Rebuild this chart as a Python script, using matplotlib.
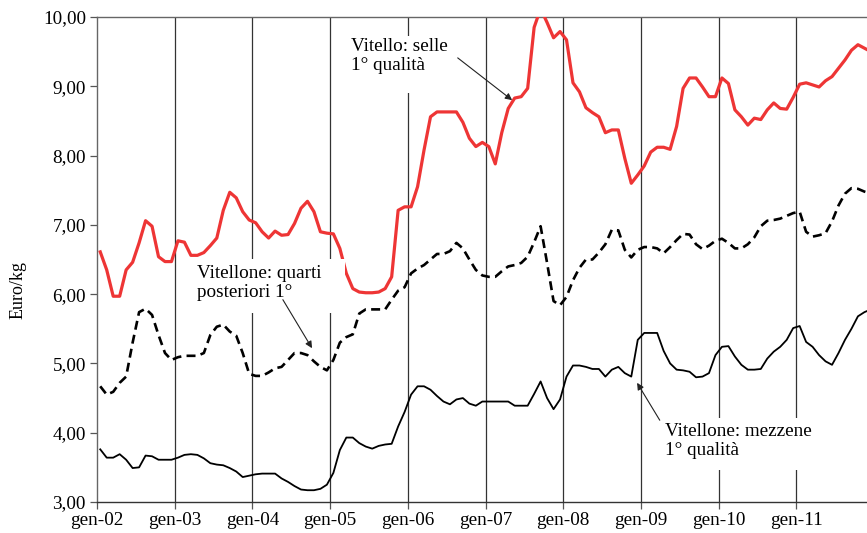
import numpy as np
import matplotlib
matplotlib.use('Agg')
import matplotlib.pyplot as plt
from matplotlib.patches import Rectangle
from matplotlib.ticker import FuncFormatter

plt.rcParams['font.family'] = ['Liberation Serif', 'DejaVu Serif']

# prezzi mensili gen-02 .. dic-11 (euro/kg)
selle = [6.61, 6.35, 5.97, 5.97, 6.35, 6.46, 6.74, 7.06, 6.98, 6.54, 6.47, 6.47,
         6.77, 6.75, 6.56, 6.56, 6.60, 6.70, 6.81, 7.21, 7.47, 7.39, 7.19, 7.07,
         7.03, 6.90, 6.81, 6.91, 6.85, 6.86, 7.02, 7.24, 7.34, 7.19, 6.90, 6.88,
         6.87, 6.66, 6.30, 6.08, 6.03, 6.02, 6.02, 6.03, 6.08, 6.25, 7.21, 7.26,
         7.26, 7.55, 8.08, 8.56, 8.63, 8.63, 8.63, 8.63, 8.48, 8.25, 8.13, 8.19,
         8.13, 7.88, 8.33, 8.68, 8.83, 8.85, 8.97, 9.85, 10.12, 9.92, 9.70, 9.79,
         9.67, 9.05, 8.92, 8.69, 8.62, 8.56, 8.33, 8.37, 8.37, 7.96, 7.60, 7.72,
         7.85, 8.05, 8.12, 8.12, 8.09, 8.42, 8.97, 9.12, 9.12, 8.99, 8.85, 8.85,
         9.12, 9.04, 8.66, 8.56, 8.44, 8.54, 8.52, 8.66, 8.76, 8.68, 8.67, 8.84,
         9.03, 9.05, 9.02, 8.99, 9.08, 9.14, 9.26, 9.38, 9.52, 9.60, 9.55, 9.50]

quarti = [4.67, 4.55, 4.59, 4.72, 4.81, 5.30, 5.74, 5.79, 5.70, 5.41, 5.15, 5.05,
          5.09, 5.11, 5.11, 5.11, 5.15, 5.41, 5.53, 5.56, 5.46, 5.40, 5.15, 4.85,
          4.82, 4.82, 4.87, 4.93, 4.95, 5.05, 5.15, 5.15, 5.12, 5.03, 4.95, 4.90,
          5.05, 5.30, 5.38, 5.42, 5.72, 5.78, 5.78, 5.78, 5.78, 5.92, 6.05, 6.10,
          6.30, 6.37, 6.42, 6.50, 6.58, 6.58, 6.62, 6.74, 6.66, 6.50, 6.35, 6.27,
          6.25, 6.25, 6.33, 6.40, 6.42, 6.45, 6.54, 6.75, 6.98, 6.45, 5.90, 5.84,
          5.96, 6.20, 6.38, 6.50, 6.50, 6.60, 6.72, 6.93, 6.92, 6.64, 6.53, 6.64,
          6.68, 6.68, 6.66, 6.59, 6.68, 6.78, 6.87, 6.86, 6.72, 6.65, 6.70, 6.77,
          6.80, 6.74, 6.66, 6.66, 6.72, 6.82, 6.98, 7.06, 7.07, 7.09, 7.13, 7.17,
          7.19, 6.90, 6.83, 6.85, 6.88, 7.05, 7.28, 7.45, 7.53, 7.52, 7.48, 7.45]

mezzene = [3.76, 3.64, 3.64, 3.69, 3.61, 3.49, 3.50, 3.67, 3.66, 3.61, 3.61, 3.61,
           3.64, 3.68, 3.69, 3.68, 3.63, 3.56, 3.54, 3.53, 3.49, 3.44, 3.36, 3.38,
           3.40, 3.41, 3.41, 3.41, 3.34, 3.29, 3.23, 3.18, 3.17, 3.17, 3.19, 3.25,
           3.42, 3.75, 3.93, 3.93, 3.85, 3.80, 3.77, 3.81, 3.83, 3.84, 4.09, 4.30,
           4.55, 4.67, 4.67, 4.62, 4.53, 4.45, 4.41, 4.48, 4.50, 4.42, 4.39, 4.45,
           4.45, 4.45, 4.45, 4.45, 4.39, 4.39, 4.39, 4.56, 4.74, 4.50, 4.34, 4.48,
           4.81, 4.97, 4.97, 4.95, 4.92, 4.92, 4.81, 4.91, 4.95, 4.86, 4.81, 5.34,
           5.44, 5.44, 5.44, 5.18, 5.00, 4.91, 4.90, 4.88, 4.80, 4.81, 4.86, 5.12,
           5.24, 5.25, 5.10, 4.98, 4.91, 4.91, 4.92, 5.07, 5.17, 5.24, 5.34, 5.51,
           5.54, 5.31, 5.24, 5.12, 5.03, 4.98, 5.15, 5.34, 5.50, 5.68, 5.74, 5.78]

anni = ['gen-02', 'gen-03', 'gen-04', 'gen-05', 'gen-06',
        'gen-07', 'gen-08', 'gen-09', 'gen-10', 'gen-11']

x = np.arange(len(selle)) + 0.5
fs = 13.8

fig = plt.figure(figsize=(8.67, 5.33), dpi=100)
ax = fig.add_axes([97/867, 31/533, 770/867, 485/533])

# griglia verticale annuale
for i in range(1, len(anni)):
    ax.axvline(12*i, color='#333333', lw=0.9, zorder=1)

ax.plot(x, selle, color='#ee3535', lw=2.3, zorder=3)
ax.plot(x, quarti, color='k', lw=1.9, linestyle=(0, (3.4, 2.0)), zorder=3)
ax.plot(x, mezzene, color='k', lw=1.3, zorder=3)

ax.set_xlim(0, 118.9)
ax.set_ylim(3, 10)
ax.set_xticks(np.arange(len(anni))*12)
ax.set_xticklabels(anni, fontsize=fs)
ax.set_yticks(np.arange(3, 11))
ax.yaxis.set_major_formatter(FuncFormatter(lambda v, p: ('%.2f' % v).replace('.', ',')))
ax.tick_params(axis='y', labelsize=fs, length=5, width=0.9, color='#555555', pad=3)
ax.tick_params(axis='x', length=5, width=0.9, color='#555555', pad=2)
ax.set_ylabel('Euro/kg', fontsize=13)
ax.yaxis.set_label_coords(-0.092, 0.437)

ax.spines['right'].set_visible(False)
ax.spines['top'].set_color('#666666')
ax.spines['left'].set_color('#666666')
ax.spines['bottom'].set_color('#333333')
for s in ax.spines.values():
    s.set_linewidth(1.0)

# etichette con sfondo bianco
ax.add_patch(Rectangle((38.0, 8.90), 17.5, 0.82, fc='white', ec='none', zorder=4))
ax.add_patch(Rectangle((15.0, 5.73), 23.3, 0.78, fc='white', ec='none', zorder=4))
ax.add_patch(Rectangle((86.0, 3.46), 24.5, 0.75, fc='white', ec='none', zorder=4))

ax.text(39.2, 9.70, 'Vitello: selle\n1° qualità', fontsize=fs, va='top', ha='left',
        linespacing=1.15, zorder=5)
ax.text(15.4, 6.42, 'Vitellone: quarti\nposteriori 1°', fontsize=fs, va='top', ha='left',
        linespacing=1.15, zorder=5)
ax.text(87.7, 4.14, 'Vitellone: mezzene\n1° qualità', fontsize=fs, va='top', ha='left',
        linespacing=1.15, zorder=5)

ap = dict(arrowstyle='-|>', color='#222222', lw=0.8, mutation_scale=10, shrinkA=0, shrinkB=0)
ax.annotate('', xy=(64.1, 8.80), xytext=(55.7, 9.41), arrowprops=ap, zorder=5)
ax.annotate('', xy=(33.2, 5.22), xytext=(28.7, 5.92), arrowprops=ap, zorder=5)
ax.annotate('', xy=(83.4, 4.72), xytext=(86.9, 4.18), arrowprops=ap, zorder=5)

fig.savefig('out.png', dpi=100)
